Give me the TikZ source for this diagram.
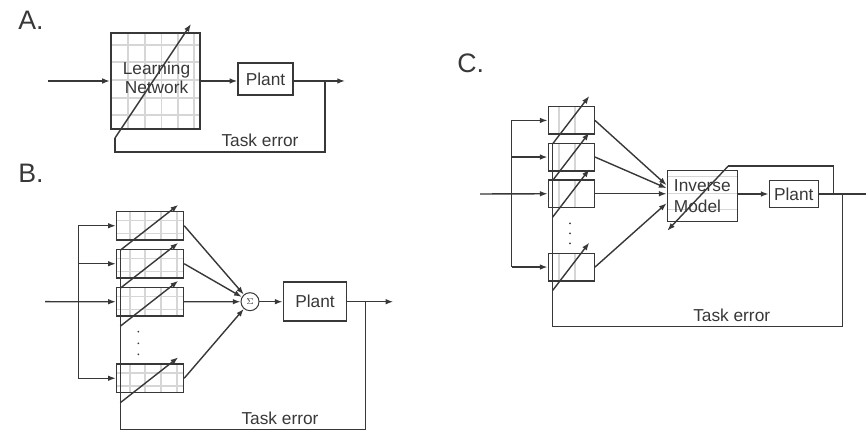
\documentclass[tikz,border=0pt]{standalone}
\usepackage{fontspec}
\setmainfont{Liberation Sans}
\usetikzlibrary{arrows.meta,fit,calc}

\begin{document}
\begin{tikzpicture}[
  x=0.025cm,y=-0.025cm,
  >={Latex[length=5.5pt,width=4pt]},
  color=black!78,line width=1pt,
  font=\fontsize{12.3}{13.6}\selectfont,
  box/.style={draw,inner sep=0pt},
  gridln/.style={black!16,line width=1.1pt},
  lbl/.style={font=\fontsize{19}{22}\selectfont,anchor=base west},
  sumnode/.style={draw,circle,minimum size=0.45cm,inner sep=0pt,line width=0.7pt,font=\fontsize{6.5}{7}\selectfont}
]
\useasboundingbox (0,0) rectangle (866,431);

% A. single learning network in front of the plant
\node[lbl] (labA) at (13,30) {A.};
\foreach \x in {128,145,161.5,178,194}{\draw[gridln] (\x,33) -- (\x,129);}
\foreach \y in {45,62,80,98,115}{\draw[gridln] (111,\y) -- (200,\y);}
\node[box,line width=1.5pt,fit={(111,33) (200,129)}] (lrn) {};
\node[align=center] (lrntxt) at (156.5,78) {Learning\\Network};
\node[box,fit={(238,63) (293,95)}] (plA) {};
\node (plAtxt) at (plA.center) {Plant};
\coordinate (inA) at (48,81);
\coordinate (outA) at (345,81);
\coordinate (tapA) at (325,81);
\coordinate (cnrA) at (325,152);
\coordinate (lrnS) at (115,138);
\coordinate (lrnE) at (191,24);
\draw[->] (inA) -- (lrn.west);
\draw[->] (lrn.east) -- (lrn.east -| plA.west);
\draw[->] (plA.east |- outA) -- (outA);
\draw (tapA) -- (cnrA) -| (lrnS);
\draw[->] (lrnS) -- (lrnE);
\node (teA) at (260,140) {Task error};

% B. bank of modules summed before the plant
\node[lbl] (labB) at (13,183) {B.};
\foreach \n/\yy in {mb1/211.5,mb2/249.5,mb3/287.5,mb4/364}{
  \foreach \x in {130,145,161,177}{\draw[gridln] (\x,\yy) -- (\x,\yy+28.5);}
  \foreach \y in {9,22}{\draw[gridln] (116.5,\yy+\y) -- (183.5,\yy+\y);}
  \node[box,fit={(116.5,\yy) (183.5,\yy+28.5)}] (\n) {};
  \coordinate (\n-s) at ($(\n.south west)+(4.5,9.5)$);
  \coordinate (\n-e) at ($(\n.north west)+(62.5,-6)$);
  \draw[->] (\n-s) -- (\n-e);
}
\foreach \y in {331.7,343.3,354.3}{\fill (138.3,\y) circle (0.7pt);}
\node[sumnode] (sum) at (250,301.7) {$\Sigma$};
\node[box,fit={(283.3,282.2) (346.7,321.2)}] (plB) {};
\node (plBtxt) at (plB.center) {Plant};
\coordinate (inB) at (45,301.7);
\coordinate (busB) at (78.3,301.7);
\coordinate (outB) at (393.3,301.7);
\coordinate (tapB) at (365.7,301.7);
\coordinate (cnrB) at (365.7,429.3);
\draw[->] (inB) -- (mb3.west);
\draw (busB |- mb1.west) -- (busB |- mb4.west);
\foreach \n in {mb1,mb2,mb4}{\draw[->] (busB |- \n.west) -- (\n.west);}
\foreach \n in {mb1,mb2,mb3,mb4}{\draw[->] (\n.east) -- (sum);}
\draw[->] (sum.east) -- (sum.east -| plB.west);
\draw[->] (plB.east) -- (outB);
\draw (tapB) -- (cnrB) -| (mb1-s);
\node (teB) at (280,418) {Task error};

% C. modules feeding an inverse model
\node[lbl] (labC) at (452,73) {C.};
\foreach \n/\yy in {mc1/106.7,mc2/143.3,mc3/180,mc4/253.3}{
  \foreach \x in {559,575}{\draw[gridln] (\x,\yy) -- (\x,\yy+27.5);}
  \node[box,fit={(548.3,\yy) (594.3,\yy+27.5)}] (\n) {};
  \coordinate (\n-s) at ($(\n.south west)+(5,9)$);
  \coordinate (\n-e) at ($(\n.north west)+(41.7,-10)$);
  \draw[->] (\n-s) -- (\n-e);
}
\foreach \y in {223.3,233.3,243.3}{\fill (570,\y) circle (0.7pt);}
\foreach \y in {176.7,193.3,209.3}{\draw[gridln] (667.3,\y) -- (737.3,\y);}
\node[box,fit={(667.3,170.7) (737.3,221.7)}] (inv) {};
\node[align=left,font=\fontsize{12.3}{15}\selectfont] (invtxt) at (inv.center) {Inverse\\Model};
\node[box,fit={(769.3,180.3) (818.3,207.7)}] (plC) {};
\node (plCtxt) at (plC.center) {Plant};
\coordinate (inC) at (480,194);
\coordinate (busC) at (511.7,194);
\coordinate (outC) at (866,194);
\coordinate (tapC) at (842.3,194);
\coordinate (cnrC) at (842.3,326.7);
\coordinate (tapC2) at (833.3,194);
\coordinate (invA) at (728.3,166);
\coordinate (invB) at (667.3,230.7);
\draw[->] (inC) -- (mc3.west);
\draw (busC |- mc1.west) -- (busC |- mc4.west);
\foreach \n in {mc1,mc2,mc4}{\draw[->] (busC |- \n.west) -- (\n.west);}
\draw[->] (mc1.east) -- ($(inv.west)+(0,-11)$);
\draw[->] (mc2.east) -- ($(inv.west)+(0,-8)$);
\draw[->] (mc3.east) -- (mc3.east -| inv.west);
\draw[->] (mc4.east) -- ($(inv.west)+(0,7)$);
\draw[->] (plC.west -| inv.east) -- (plC.west);
\draw (plC.east) -- (outC);
\draw (tapC2) |- (invA);
\draw[->] (invA) -- (invB);
\draw (tapC) -- (cnrC) -| (mc1-s);
\node (teC) at (731.7,315) {Task error};
\end{tikzpicture}
\end{document}
